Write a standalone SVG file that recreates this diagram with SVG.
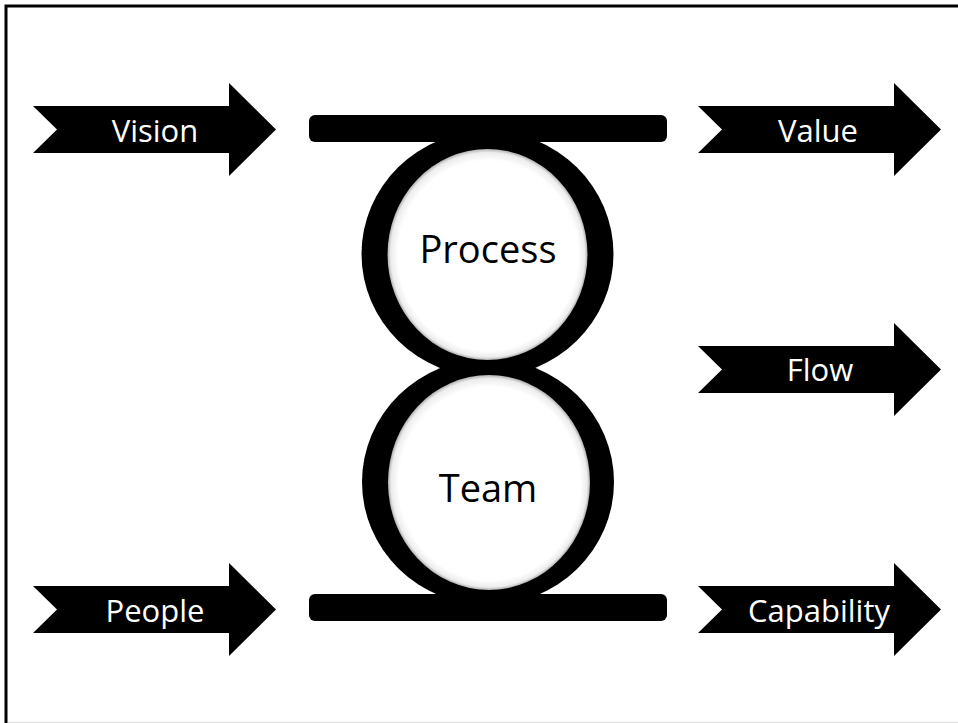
<svg xmlns="http://www.w3.org/2000/svg" width="958" height="723" viewBox="0 0 958 723">
  <defs>
    <style>
      .arrow { fill: #000; }
      .lbl { font-family: "Open Sans", "Noto Sans", "Liberation Sans", sans-serif; font-size: 31px; fill: #fff; text-anchor: middle; }
      .clbl { font-family: "Open Sans", "Noto Sans", "Liberation Sans", sans-serif; font-size: 38px; fill: #000; text-anchor: middle; }
      .bar { fill: #000; }
      .ring { fill: #000; }
      .hole { fill: url(#holeGrad); }
    </style>
    <radialGradient id="holeGrad" cx="0.5" cy="0.5" r="0.5" fx="0.53" fy="0.55">
      <stop offset="0" stop-color="#ffffff"/>
      <stop offset="0.9" stop-color="#ffffff"/>
      <stop offset="0.97" stop-color="#ececec"/>
      <stop offset="1" stop-color="#b0b0b0"/>
    </radialGradient>
    <polygon id="arr" points="0,0 196,0 196,-23 243,23.5 196,70 196,47 0,47 24,23.5"/>
  </defs>
  <rect x="0" y="0" width="958" height="723" fill="#fff"/>
  <rect x="6" y="6" width="1000" height="800" fill="none" stroke="#000" stroke-width="3"/>
  <line x1="8" y1="722.5" x2="958" y2="722.5" stroke="#e2e2e2" stroke-width="1.5"/>

  <g id="connectors">
    <g id="arrow-vision">
      <use href="#arr" x="33" y="106" class="arrow"/>
      <text class="lbl" x="155" y="142">Vision</text>
    </g>
    <g id="arrow-people">
      <use href="#arr" x="33" y="586" class="arrow"/>
      <text class="lbl" x="155" y="622">People</text>
    </g>
    <g id="arrow-value">
      <use href="#arr" x="698" y="106" class="arrow"/>
      <text class="lbl" x="818" y="142">Value</text>
    </g>
    <g id="arrow-flow">
      <use href="#arr" x="698" y="346" class="arrow"/>
      <text class="lbl" x="820" y="381">Flow</text>
    </g>
    <g id="arrow-capability">
      <use href="#arr" x="698" y="586" class="arrow"/>
      <text class="lbl" x="819" y="622">Capability</text>
    </g>
  </g>

  <g id="rings">
    <ellipse class="ring" cx="487.5" cy="254" rx="126" ry="123"/>
    <ellipse class="ring" cx="488" cy="482" rx="126" ry="123"/>
  </g>
  <g id="bar-top">
    <rect class="bar" x="309" y="115" width="358" height="27" rx="6"/>
  </g>
  <g id="bar-bottom">
    <rect class="bar" x="309" y="594" width="358" height="27" rx="6"/>
  </g>
  <g id="process">
    <ellipse class="hole" cx="487.5" cy="254.5" rx="100" ry="105.5"/>
    <text class="clbl" x="488" y="263">Process</text>
  </g>
  <g id="team">
    <ellipse class="hole" cx="489" cy="482.5" rx="101" ry="107.5"/>
    <text class="clbl" x="488" y="502">Team</text>
  </g>
</svg>
